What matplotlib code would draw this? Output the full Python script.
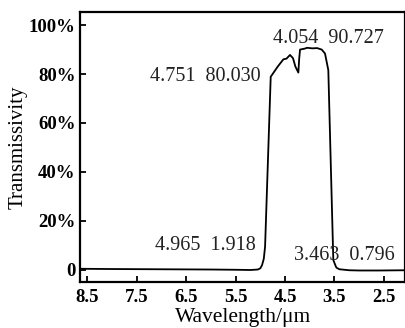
import matplotlib
matplotlib.use("Agg")
import matplotlib.pyplot as plt
import numpy as np

# transmission curve
wavelength = [8.64, 8.0, 7.0, 6.0, 5.5, 5.2, 5.05, 5.0, 4.965, 4.93, 4.904,
              4.79, 4.751, 4.65, 4.534, 4.47, 4.40, 4.34, 4.29, 4.231, 4.215,
              4.197, 4.10, 4.054, 3.95, 3.85, 3.759, 3.692, 3.625, 3.524,
              3.47, 3.456, 3.40, 3.2, 3.0, 2.6, 2.07]
transmissivity = [0.4, 0.3, 0.2, 0.1, 0.0, -0.1, 0.1, 0.6, 1.918, 4.5, 9.5,
                  78.9, 80.03, 83.0, 86.0, 86.3, 87.8, 86.5, 83.0, 80.6, 86.0,
                  90.0, 90.4, 90.727, 90.5, 90.6, 90.0, 88.4, 81.6, 4.0,
                  1.2, 0.796, 0.2, -0.2, -0.3, -0.3, -0.2]

xticks = [8.5, 7.5, 6.5, 5.5, 4.5, 3.5, 2.5]
yticks = [0, 20, 40, 60, 80, 100]
ytick_labels = ["0", "20%", "40%", "60%", "80%", "100%"]

notes = ["4.751  80.030", "4.054  90.727", "4.965  1.918", "3.463  0.796"]
note_xy = [(6.12, 79.0), (3.62, 94.5), (6.12, 9.8), (3.31, 6.0)]

plt.rcParams["font.family"] = ["Liberation Serif", "DejaVu Serif"]

fig = plt.figure(figsize=(4.06, 3.28), dpi=100)
ax = fig.add_axes([0.198, 0.141, 0.8, 0.822])

ax.plot(wavelength, transmissivity, color="black", lw=1.3)

ax.set_xlim(8.64, 2.07)
ax.set_ylim(-4.9, 105.3)
ax.set_xticks(xticks)
ax.set_xticklabels([f"{t}" for t in xticks])
ax.set_yticks(yticks)
ax.set_yticklabels(ytick_labels)
ax.tick_params(direction="in", length=4, width=1.3, labelsize=13.5)
ax.tick_params(axis="x", pad=5)
for lab in ax.get_xticklabels() + ax.get_yticklabels():
    lab.set_fontweight("bold")
for s in ax.spines.values():
    s.set_linewidth(1.6)

for txt, (x, y) in zip(notes, note_xy):
    ax.text(x, y, txt, ha="center", va="center", fontsize=14.5, color="#222222")

ax.set_xlabel("Wavelength/\u03bcm", fontsize=15.5, labelpad=2)
ax.set_ylabel("Transmissivity", fontsize=15, labelpad=1)

fig.savefig("out.png", dpi=100)
